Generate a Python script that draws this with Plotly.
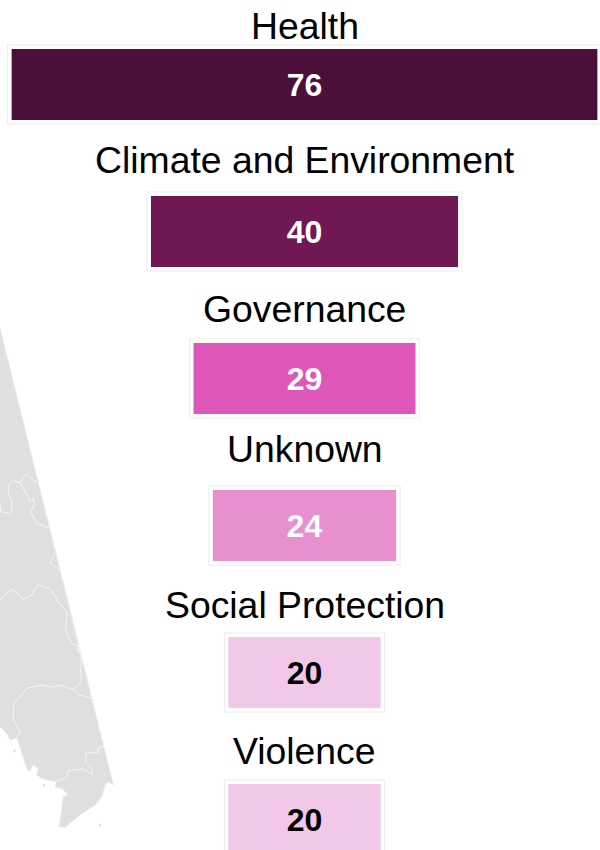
import plotly.graph_objects as go

categories = ["Health", "Climate and Environment", "Governance", "Unknown", "Social Protection", "Violence"]
values = [76, 40, 29, 24, 20, 20]
bar_colors = ["#4b1039", "#6f1853", "#de57b8", "#e88fd0", "#f2c8e8", "#f2c8e8"]
value_text_colors = ["white", "white", "white", "white", "black", "black"]
# vertical offset of each heading above its bar, in pixels
heading_shift = [59, 72, 70, 77, 68, 69]

# background map, on an axis the size of the page
land_x = [0, 113.3, 108, 105, 101.7, 95, 80, 71.7, 65, 59.3, 61.7, 63.3, 68.3, 61.7, 55, 56.7, 46.7, 41.7, 36.7,
          38.3, 33.3, 29.3, 26, 23.3, 20, 16.7, 10, 6.7, 0]
land_y = [328, 785, 781.7, 785, 796.7, 805, 815, 821.7, 827.3, 826.7, 806.7, 796.7, 795, 788.3, 787.3, 781.7, 780,
          778.3, 775, 768.3, 765, 771.7, 766.7, 756.7, 746.7, 738.3, 740, 733.3, 726.7]
borders = [
    ([0, 0.7, 6.7, 11, 12.3, 8.3, 8.3, 11.7, 20, 26, 37.3],
     [503.3, 511.7, 512.7, 514.3, 502.7, 493.3, 486, 480.7, 482.7, 474, 482.7]),
    ([20, 28.3, 29.3, 33.3, 34.3, 31, 36.7, 49.3], [482.7, 496.7, 501.7, 498.3, 503.3, 512.7, 523.3, 528.3]),
    ([55, 50, 61.7], [553.3, 563.3, 571]),
    ([0, 6.7, 13.3, 23.3, 31.7, 37.3, 50, 58.3, 66.7, 65.7, 71.7, 78.3, 80, 81.7, 80, 81.7, 80, 72.7, 80, 91.7],
     [600, 593.3, 589.3, 599.3, 595, 584.7, 588.3, 601.7, 611.7, 630, 643.3, 646, 652.7, 661.7, 666.7, 676.7, 683.3,
      689.3, 695, 698.3]),
    ([78.3, 77.3, 80], [646, 650, 654]),
    ([16.7, 20, 13.3, 13.3, 20, 26.7, 41.7, 51.7, 61.7, 70, 72.7],
     [738.3, 731.7, 720, 705, 697, 688.3, 685, 687.3, 685.3, 688.3, 689.3]),
    ([104.3, 98.3, 98.3, 86, 86, 92.7, 91.7, 83.3, 68.3, 66.7, 55],
     [746.7, 747.3, 753.3, 752.3, 763.3, 770, 774, 769, 770.7, 777.3, 781.7]),
]
islands_x = [100, 14.3, 44]
islands_y = [825, 750.7, 785]

PX_PER_UNIT = 7.74
CENTER_PX = 304.5
PITCH = 147
FIRST_BAR_PX = 84.5
BAR_PX = 73.5
W, H = 600, 850

bases = [-v / 2 for v in values]
idx = list(range(len(values)))

fig = go.Figure()

fig.add_trace(go.Scatter(x=land_x, y=land_y, xaxis="x2", yaxis="y2", mode="lines", fill="toself",
                         fillcolor="#dfdfdf", line=dict(color="#ececec", width=1), hoverinfo="skip"))
for bx, by in borders:
    fig.add_trace(go.Scatter(x=bx, y=by, xaxis="x2", yaxis="y2", mode="lines",
                             line=dict(color="#f6f6f6", width=1), hoverinfo="skip"))
fig.add_trace(go.Scatter(x=islands_x, y=islands_y, xaxis="x2", yaxis="y2", mode="markers",
                         marker=dict(color="#e4e4e4", size=3), hoverinfo="skip"))

bw = BAR_PX / PITCH
for line_color, line_width in (("#ececec", 6.5), ("white", 4.5)):
    fig.add_trace(go.Bar(y=idx, x=values, base=bases, orientation="h", width=bw,
                         marker=dict(color=line_color, line=dict(color=line_color, width=line_width)),
                         hoverinfo="skip"))
fig.add_trace(go.Bar(y=idx, x=values, base=bases, orientation="h", width=bw,
                     marker=dict(color=bar_colors, line=dict(color="white", width=2.5)),
                     text=[str(v) for v in values], textposition="inside", insidetextanchor="middle",
                     textangle=0, constraintext="none",
                     textfont=dict(family="Liberation Sans", size=32, color=value_text_colors, weight="bold"),
                     hoverinfo="skip"))

for i, (cat, s) in enumerate(zip(categories, heading_shift)):
    fig.add_annotation(x=0, y=i, xref="x", yref="y", text=cat, showarrow=False, yshift=s,
                       yanchor="middle", xanchor="center",
                       font=dict(family="Liberation Sans", size=37.33, color="black"))

fig.update_layout(
    width=W, height=H, margin=dict(l=0, r=0, t=0, b=0), showlegend=False, barmode="overlay",
    paper_bgcolor="white", plot_bgcolor="white",
    xaxis=dict(range=[-CENTER_PX / PX_PER_UNIT, (W - CENTER_PX) / PX_PER_UNIT], visible=False, domain=[0, 1]),
    yaxis=dict(range=[(H - FIRST_BAR_PX) / PITCH, -FIRST_BAR_PX / PITCH], visible=False, domain=[0, 1]),
    xaxis2=dict(range=[0, W], visible=False, overlaying="x", anchor="y2"),
    yaxis2=dict(range=[H, 0], visible=False, overlaying="y", anchor="x2"),
)

fig.write_html("out.html", config={"displayModeBar": False},
               post_script="document.body.style.margin='0';document.body.style.overflow='hidden';")
